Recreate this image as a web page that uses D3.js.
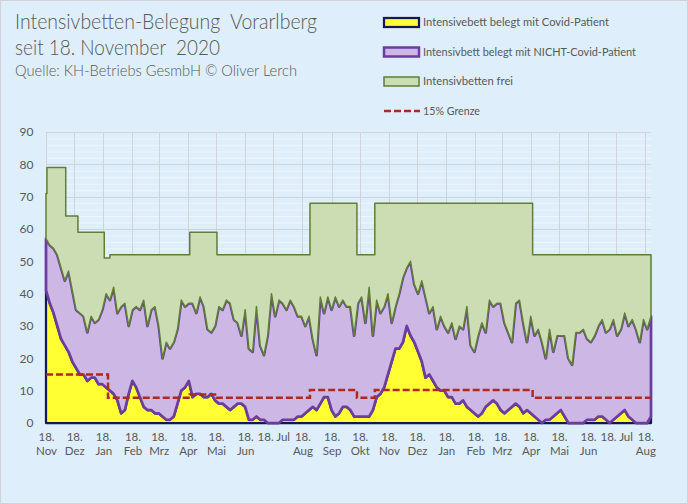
<!DOCTYPE html>
<html>
<head>
<meta charset="utf-8">
<script src="https://cdn.jsdelivr.net/npm/d3@7"></script>
<style>
  html, body { margin: 0; padding: 0; background: #fff; }
  svg { display: block; }
</style>
</head>
<body>
<svg id="chart" width="688" height="504"></svg>
<script>
// Intensivbetten Vorarlberg - Werte alle 4 Tage ab 18.11.2020
const startDate = '2020-11-18';
const stepDays = 4;

// belegt gesamt (Covid + NICHT-Covid)
const belegtGesamt = [
  57,55,54,52,48,44,47,41,35,34, 33,28,33,31,32,35,40,38,42,34,
  36,37,30,35,36,35,38,30,35,36, 30,20,25,23,25,29,38,36,37,37,
  34,39,36,29,28,30,36,35,38,37, 32,31,27,35,23,22,36,24,21,27,
  40,33,38,37,35,38,36,33,33,30, 33,26,21,39,34,39,35,39,36,38,
  36,
  36,27,37,39,31,42,27,38,34,36, 40,31,36,40,45,48,50,43,40,44,
  39,34,36,29,33,30,28,31,26,30, 29,36,24,22,27,31,28,38,36,37,
  37,31,28,25,37,38,31,25,33,27, 29,25,20,29,22,27,27,27,20,18,
  28,28,29,26,25,27,30,32,28,29, 32,27,29,34,30,32,29,25,32,29,
  33
];

// davon Covid-Patienten
const covidPatienten = [
  41,37,34,30,26,24,22,19,17,15, 15,13,14,14,12,12,11,10,9,7,
  3,4,9,13,11,8,5,4,4,3, 3,2,1,1,2,6,10,11,13,8,
  9,9,8,8,9,7,6,6,5,4, 5,6,6,5,1,1,2,1,1,0,
  0,0,0,1,1,1,1,2,2,3, 4,5,4,6,8,8,4,2,3,5,
  5,
  4,2,2,2,2,2,4,8,9,11, 15,19,23,23,25,30,27,25,22,19,
  14,15,13,11,10,10,8,8,6,6, 7,5,4,3,2,3,5,6,7,6,
  4,3,4,5,6,5,3,4,3,2, 1,0,1,1,2,3,4,2,0,0,
  0,0,0,1,1,1,2,2,1,0, 1,2,3,4,2,1,0,0,0,0,
  2
];

// Intensivbetten gesamt (Stufen)
const bettenDatum = ['2020-11-18','2020-11-19','2020-12-09','2020-12-22','2021-01-19','2021-01-25',
  '2021-04-20','2021-05-19','2021-08-26','2021-10-15','2021-11-03','2022-04-20','2022-08-24'];
const bettenGesamt = [71, 79, 64, 59, 51, 52, 59, 52, 68, 52, 68, 52, 52];

// 15% Grenze (Stufen)
const grenzeDatum = ['2020-11-18','2021-01-23','2021-04-20','2021-05-19','2021-08-26','2021-10-15',
  '2021-11-03','2022-04-20','2022-08-24'];
const grenzeWert = [15, 7.8, 8.85, 7.8, 10.2, 7.8, 10.2, 7.8, 7.8];

const monatsNamen = ['Jan','Feb','Mrz','Apr','Mai','Jun','Jul','Aug','Sep','Okt','Nov','Dez'];
const yTicks = [0,10,20,30,40,50,60,70,80,90];

const titelZeilen = ['Intensivbetten-Belegung  Vorarlberg', 'seit 18. November  2020',
  'Quelle: KH-Betriebs GesmbH \u00a9 Oliver Lerch'];
const legendeText = ['Intensivebett belegt mit Covid-Patient', 'Intensivbett belegt mit NICHT-Covid-Patient',
  'Intensivbetten frei', '15% Grenze'];

/* ---------- */

const col = {
  bg: '#DEEEFB', border: '#D0D4DA', text: '#595959',
  grid: '#D2D3D8', gridMinor: '#F1F6FC',
  yellow: '#FFFF33', navy: '#101C50',
  lila: '#CDB7E5', lilaLine: '#6A3D9F',
  green: '#CCDDB4', greenLine: '#5F7E37',
  red: '#B0281E'
};
const font = 'Lato, "Open Sans", sans-serif';

const parse = d3.utcParse('%Y-%m-%d');
const t0 = parse(startDate);
const rows = belegtGesamt.map(function(b, i) {
  return { date: d3.utcDay.offset(t0, i * stepDays), belegt: b, covid: covidPatienten[i] };
});
const betten = bettenDatum.map(function(d, i) { return { date: parse(d), v: bettenGesamt[i] }; });
const grenze = grenzeDatum.map(function(d, i) { return { date: parse(d), v: grenzeWert[i] }; });

const plot = {left: 46, right: 651, top: 132, bottom: 423};

const x = d3.scaleUtc()
    .domain([t0, rows[rows.length - 1].date])
    .range([plot.left, plot.right]);
const y = d3.scaleLinear()
    .domain([0, 90])
    .range([plot.bottom, plot.top]);

const svg = d3.select('#chart');

svg.append('rect')
    .attr('x', 0.5).attr('y', 0.5).attr('width', 687).attr('height', 503)
    .attr('fill', col.bg).attr('stroke', col.border);

// gridlines
const grid = svg.append('g');
grid.selectAll('line.minor')
    .data(d3.range(0, 91, 2).filter(function(v) { return v % 10 !== 0; }))
    .enter().append('line')
    .attr('class', 'minor')
    .attr('x1', plot.left).attr('x2', plot.right)
    .attr('y1', function(d) { return y(d) + 0.5; }).attr('y2', function(d) { return y(d) + 0.5; })
    .attr('stroke', col.gridMinor).attr('stroke-width', 1);

const tickDates = d3.range(22).map(function(i) { return new Date(Date.UTC(2020, 10 + i, 18)); });

grid.selectAll('line.vert')
    .data(tickDates)
    .enter().append('line')
    .attr('class', 'vert')
    .attr('x1', function(d) { return Math.round(x(d)) + 0.5; })
    .attr('x2', function(d) { return Math.round(x(d)) + 0.5; })
    .attr('y1', plot.top).attr('y2', plot.bottom)
    .attr('stroke', col.grid).attr('stroke-width', 1);

grid.selectAll('line.major')
    .data(yTicks)
    .enter().append('line')
    .attr('class', 'major')
    .attr('x1', plot.left).attr('x2', plot.right)
    .attr('y1', function(d) { return Math.round(y(d)) + 0.5; })
    .attr('y2', function(d) { return Math.round(y(d)) + 0.5; })
    .attr('stroke', col.grid).attr('stroke-width', 1);

// areas
const covidArea = d3.area()
    .x(function(d) { return x(d.date); })
    .y0(y(0))
    .y1(function(d) { return y(d.covid); });

const nichtCovidArea = d3.area()
    .x(function(d) { return x(d.date); })
    .y0(function(d) { return y(d.covid); })
    .y1(function(d) { return y(d.belegt); });

svg.append('path')
    .datum(rows)
    .attr('d', covidArea)
    .attr('fill', col.yellow)
    .attr('stroke', col.navy).attr('stroke-width', 2.25)
    .attr('stroke-linejoin', 'round');

svg.append('path')
    .datum(rows)
    .attr('d', nichtCovidArea)
    .attr('fill', col.lila)
    .attr('stroke', col.lilaLine).attr('stroke-width', 2.75)
    .attr('stroke-linejoin', 'round');

// freie Betten: oben Bettenstand (Stufen), unten Belegung
const capLine = d3.line()
    .x(function(d) { return x(d.date); })
    .y(function(d) { return y(d.v); })
    .curve(d3.curveStepAfter);
const occLine = d3.line()
    .x(function(d) { return x(d.date); })
    .y(function(d) { return y(d.belegt); });

const freiPath = capLine(betten) + occLine(rows.slice().reverse()).replace(/^M/, 'L') + 'Z';
svg.append('path')
    .attr('d', freiPath)
    .attr('fill', col.green)
    .attr('stroke', col.greenLine).attr('stroke-width', 1.5)
    .attr('stroke-linejoin', 'round');

// 15% Grenze
svg.append('path')
    .datum(grenze)
    .attr('d', capLine)
    .attr('fill', 'none')
    .attr('stroke', col.red).attr('stroke-width', 2.5)
    .attr('stroke-dasharray', '7,3');

// axes
const yAxis = svg.append('g')
    .attr('transform', 'translate(' + plot.left + ',0)')
    .call(d3.axisLeft(y).tickValues(yTicks).tickSize(0).tickPadding(12.5));
yAxis.select('.domain').remove();
yAxis.selectAll('text')
    .attr('font-family', font).attr('font-size', 12).attr('fill', col.text);

const xAxis = svg.append('g')
    .attr('transform', 'translate(0,' + plot.bottom + ')')
    .call(d3.axisBottom(x).tickValues(tickDates).tickSize(0));
xAxis.select('.domain').remove();
xAxis.selectAll('text')
    .attr('font-family', font).attr('font-size', 11.5).attr('fill', col.text)
    .each(function(d) {
      const t = d3.select(this);
      const m = monatsNamen[d.getUTCMonth()];
      t.text(null).attr('y', null).attr('dy', null);
      if (m === 'Jul') {
        t.append('tspan').attr('x', 0).attr('y', 18).text('18. Jul');
      } else {
        t.append('tspan').attr('x', 0).attr('y', 18).text('18.');
        t.append('tspan').attr('x', 0).attr('y', 31.5).text(m);
      }
    });

// titles
const titelY = [29, 54.5, 75.5];
const titelSize = [21, 21, 15];
const titelLen = [302, 205, 282];
svg.selectAll('text.titel')
    .data(titelZeilen)
    .enter().append('text')
    .attr('class', 'titel')
    .attr('x', 15)
    .attr('y', function(d, i) { return titelY[i]; })
    .attr('font-family', font).attr('font-weight', 300)
    .attr('font-size', function(d, i) { return titelSize[i]; })
    .attr('textLength', function(d, i) { return titelLen[i]; })
    .attr('lengthAdjust', 'spacingAndGlyphs')
    .attr('fill', col.text)
    .style('white-space', 'pre')
    .text(function(d) { return d; });

// legend
const legY = [22.5, 52, 81.5, 111];
const legLen = [186, 213, 90, 57];
const leg = svg.append('g');
const legStyle = [
  {fill: col.yellow, stroke: col.navy, w: 2.25},
  {fill: col.lila, stroke: col.lilaLine, w: 2.5},
  {fill: col.green, stroke: col.greenLine, w: 1.5}
];
legStyle.forEach(function(s, i) {
  leg.append('rect')
      .attr('x', 384).attr('y', legY[i] - 4.5)
      .attr('width', 35).attr('height', 9)
      .attr('fill', s.fill).attr('stroke', s.stroke).attr('stroke-width', s.w);
});
leg.append('line')
    .attr('x1', 384).attr('x2', 420)
    .attr('y1', legY[3]).attr('y2', legY[3])
    .attr('stroke', col.red).attr('stroke-width', 2.5)
    .attr('stroke-dasharray', '7,3');

leg.selectAll('text')
    .data(legendeText)
    .enter().append('text')
    .attr('x', 423)
    .attr('y', function(d, i) { return legY[i]; })
    .attr('dy', '0.35em')
    .attr('font-family', font).attr('font-size', 11)
    .attr('textLength', function(d, i) { return legLen[i]; })
    .attr('lengthAdjust', 'spacingAndGlyphs')
    .attr('fill', col.text)
    .text(function(d) { return d; });
</script>
</body>
</html>
